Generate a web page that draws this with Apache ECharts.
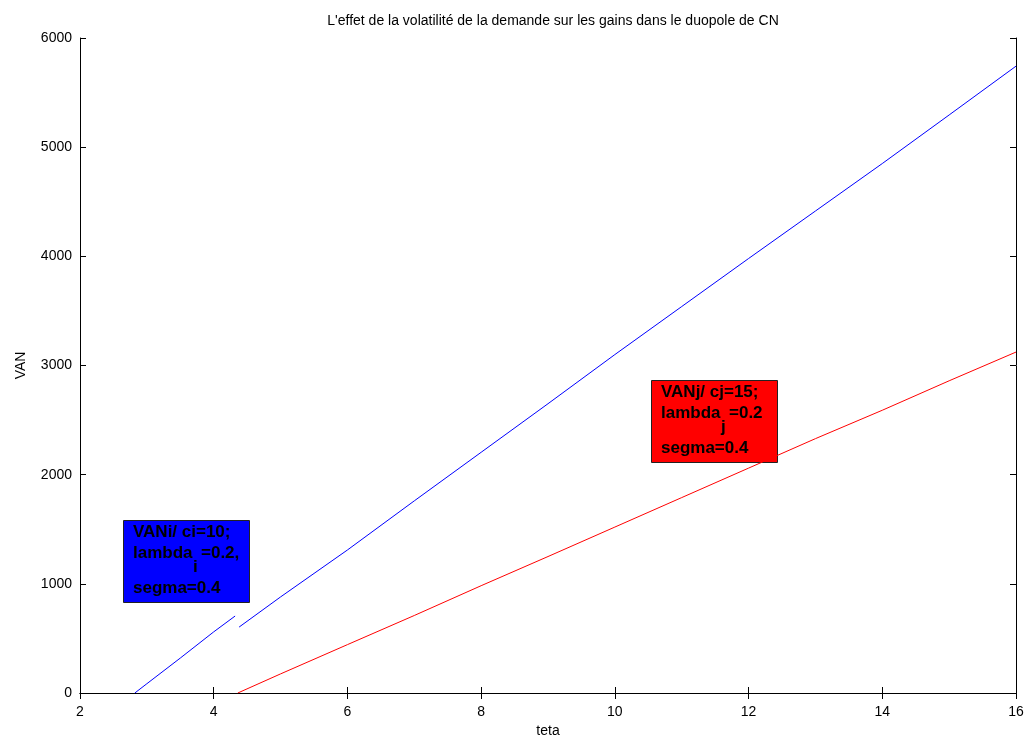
<!DOCTYPE html>
<html>
<head>
<meta charset="utf-8">
<script src="https://cdn.jsdelivr.net/npm/echarts@6/dist/echarts.min.js"></script>
<style>html,body{margin:0;padding:0;background:#fff;overflow:hidden;}#c{width:1027px;height:738px;}</style>
</head>
<body>
<div id="c"></div>
<script>
var titleText = "L'effet de la volatilité de la demande sur les gains dans le duopole de CN";
var xName = "teta";
var yName = "VAN";
var blueSeg1 = [[2.82,0],[3.0,85],[3.5,320],[4.0,560],[4.32,705]];
var blueSeg2 = [[4.38,604],[5,880],[6,1310],[7,1760],[8,2205],[9,2650],[10,3100],[11,3540],[12,3980],[13,4415],[14,4850],[15,5295],[16,5742]];
var redLine = [[4.36,0],[5,175],[6,443],[7,710],[8,983],[9,1250],[10,1520],[11,1790],[12,2060],[13,2330],[14,2590],[15,2860],[16,3123]];
var boxBlue = {anchor:[2.64,1584], lines:["VANi/ ci=10;", "lambda", "i", "=0.2,", "segma=0.4"]};
var boxRed = {anchor:[10.54,2866], lines:["VANj/ cj=15;", "lambda", "j", "=0.2", "segma=0.4"]};

var FONT = "Liberation Sans, Arial, sans-serif";
var chart = echarts.init(document.getElementById('c'), null, {width:1027, height:738});
var axBase = {
  axisLine:{show:true,lineStyle:{color:'#000',width:1}},
  axisTick:{show:true,inside:true,length:6,lineStyle:{color:'#000'}},
  splitLine:{show:false}
};
chart.setOption({
  animation:false,
  backgroundColor:'#fff',
  title:{text:titleText,left:548,textAlign:'center',top:9,textStyle:{fontFamily:FONT,fontSize:14,fontWeight:'normal',color:'#000'}},
  grid:{left:80,right:11,top:38,bottom:45,containLabel:false,outerBoundsMode:'none'},
  xAxis:[
    Object.assign({type:'value',min:2,max:16,interval:2,position:'bottom',name:xName,nameLocation:'middle',nameGap:31,
      nameTextStyle:{fontFamily:FONT,fontSize:14,color:'#000'},
      axisLabel:{fontFamily:FONT,fontSize:14,color:'#000',margin:12}},axBase),
    Object.assign({type:'value',min:2,max:16,interval:2,position:'top',axisLabel:{show:false}},axBase)
  ],
  yAxis:[
    Object.assign({type:'value',min:0,max:6000,interval:1000,position:'left',name:yName,nameLocation:'middle',nameGap:52,
      nameTextStyle:{fontFamily:FONT,fontSize:14,color:'#000'},
      axisLabel:{fontFamily:FONT,fontSize:14,color:'#000',margin:8,formatter:function(v){return String(v);}}},axBase),
    Object.assign({type:'value',min:0,max:6000,interval:1000,position:'right',axisLabel:{show:false}},axBase)
  ],
  series:[
    {type:'line',data:blueSeg1,showSymbol:false,lineStyle:{color:'#0000ff',width:1},itemStyle:{color:'#0000ff'}},
    {type:'line',data:blueSeg2,showSymbol:false,lineStyle:{color:'#0000ff',width:1},itemStyle:{color:'#0000ff'}},
    {type:'line',data:redLine,showSymbol:false,lineStyle:{color:'#ff0000',width:1},itemStyle:{color:'#ff0000'}}
  ]
});

function makeBox(box, fill){
  var p = chart.convertToPixel({xAxisIndex:0,yAxisIndex:0}, box.anchor);
  var ts = {fontFamily:FONT,fontSize:17,fontWeight:'bold',fill:'#000'};
  return {
    type:'group', x:Math.round(p[0]), y:Math.round(p[1]), z:100,
    children:[
      {type:'rect',shape:{x:0.5,y:0.5,width:126,height:82},style:{fill:fill,stroke:'#222',lineWidth:1}},
      {type:'text',x:10,y:4,style:Object.assign({text:box.lines[0]},ts)},
      {type:'text',x:10,y:25,style:Object.assign({text:box.lines[1]},ts)},
      {type:'text',x:70,y:39,style:Object.assign({text:box.lines[2]},ts)},
      {type:'text',x:78,y:25,style:Object.assign({text:box.lines[3]},ts)},
      {type:'text',x:10,y:60,style:Object.assign({text:box.lines[4]},ts)}
    ]
  };
}
chart.setOption({graphic:[makeBox(boxBlue,'#0000ff'), makeBox(boxRed,'#ff0000')]});
</script>
</body>
</html>
